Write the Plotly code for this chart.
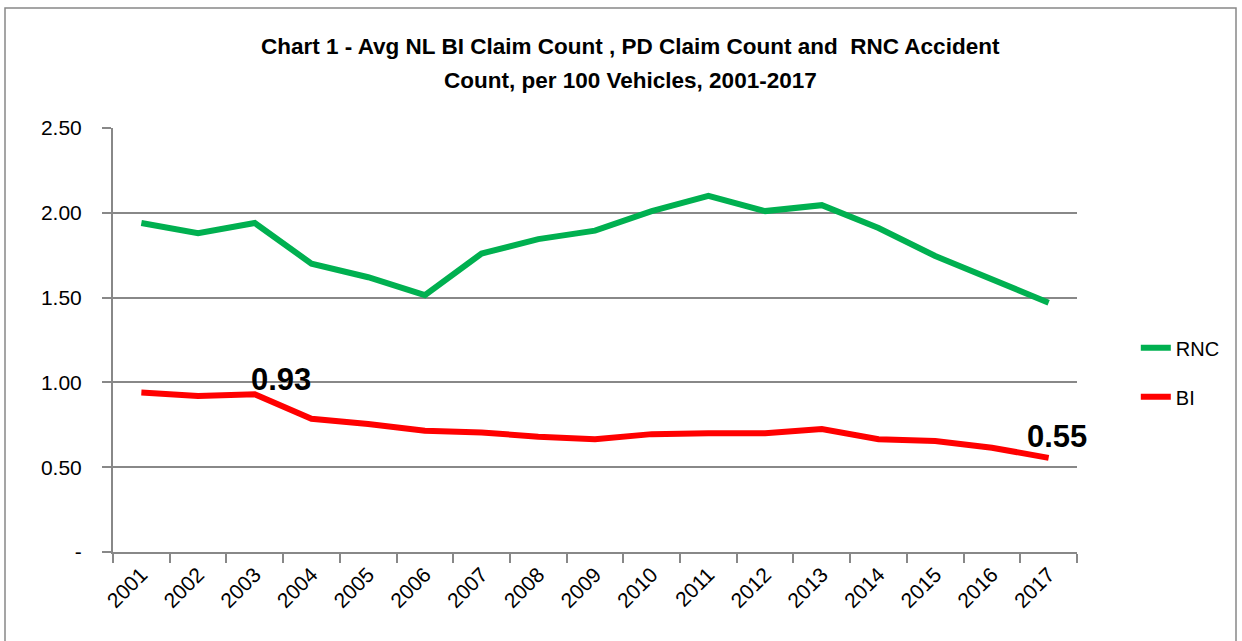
import plotly.graph_objects as go

years = list(range(2001, 2018))
rnc = [1.94, 1.88, 1.94, 1.70, 1.62, 1.515, 1.76, 1.845, 1.895, 2.01, 2.10, 2.01, 2.045, 1.91, 1.745, 1.61, 1.47]
bi = [0.94, 0.92, 0.93, 0.785, 0.755, 0.715, 0.705, 0.68, 0.665, 0.695, 0.70, 0.70, 0.725, 0.665, 0.655, 0.615, 0.555]
y_ticks = [0, 0.5, 1.0, 1.5, 2.0, 2.5]
y_ticktext = ["-", "0.50", "1.00", "1.50", "2.00", "2.50"]
title_lines = ["Chart 1 - Avg NL BI Claim Count , PD Claim Count and  RNC Accident",
               "Count, per 100 Vehicles, 2001-2017"]

font = "Liberation Sans, Arial"
bounds = [y - 0.5 for y in years] + [years[-1] + 0.5]

fig = go.Figure()
fig.add_trace(go.Scatter(x=years, y=rnc, name="RNC", mode="lines", legendgroup="a",
                         line=dict(color="#00B050", width=6)))
fig.add_trace(go.Scatter(x=years, y=bi, name="BI", mode="lines", legendgroup="b",
                         line=dict(color="#FF0000", width=6)))

fig.add_annotation(x=years[2], y=bi[2], text="<b>0.93</b>", showarrow=False,
                   xshift=26, yshift=15, font=dict(size=31, color="black", family=font))
fig.add_annotation(x=years[-1], y=bi[-1], text="<b>0.55</b>", showarrow=False,
                   xshift=8, yshift=21, font=dict(size=31, color="black", family=font))

# title as two lines (paper coords; plot area spans y=128..552 px)
for txt, ypx in zip(title_lines, [47, 80]):
    fig.add_annotation(xref="paper", yref="paper", x=(630 - 113) / 964, y=(552 - ypx) / 424,
                       text="<b>" + txt + "</b>", showarrow=False, xanchor="center", yanchor="middle",
                       font=dict(size=22.5, color="black", family=font))

fig.add_shape(type="rect", xref="paper", yref="paper", x0=(5 - 113) / 964, x1=(1236 - 113) / 964,
              y0=-0.4, y1=(552 - 8) / 424, line=dict(color="#888888", width=1.5))

fig.update_layout(
    width=1242, height=641,
    margin=dict(l=113, r=165, t=128, b=89, autoexpand=False),
    paper_bgcolor="white", plot_bgcolor="white",
    legend=dict(x=1.061, y=0.424, xanchor="left", yanchor="middle",
                font=dict(family=font, size=20, color="black"),
                tracegroupgap=20, bgcolor="rgba(0,0,0,0)"),
    font=dict(family=font, size=20, color="black"),
    showlegend=True,
)
fig.update_xaxes(range=[2000.5, 2017.5], tickvals=years, ticktext=[str(y) for y in years],
                 ticks="", showline=True, linecolor="#888888", linewidth=2,
                 minor=dict(tickvals=bounds, ticks="outside", ticklen=9, tickcolor="#888888", tickwidth=2, showgrid=False),
                 showgrid=False, zeroline=False, tickangle=-45, tickfont=dict(size=21, color="black"))
fig.update_yaxes(range=[0, 2.5], tickvals=y_ticks, ticktext=y_ticktext,
                 ticks="outside", ticklen=9, tickcolor="#888888", tickwidth=2,
                 showline=True, linecolor="#888888", linewidth=2, ticklabelstandoff=16,
                 showgrid=True, gridcolor="#888888", gridwidth=1.5, zeroline=False,
                 tickfont=dict(size=21, color="black"))

fig.write_html("out.html", config={"displayModeBar": False},
               post_script="document.body.style.margin='0';")
